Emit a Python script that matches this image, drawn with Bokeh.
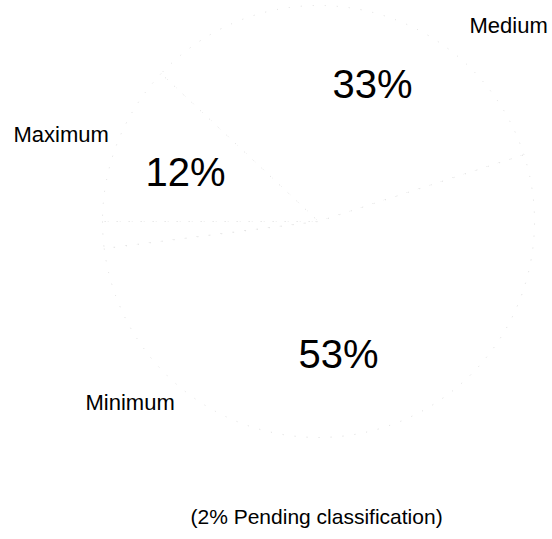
import numpy as np
from bokeh.plotting import figure
from bokeh.models import ColumnDataSource, Range1d
from bokeh.core.properties import value
from bokeh.embed import file_html
from bokeh.resources import INLINE

categories = ["Medium", "Maximum", "Pending", "Minimum"]
shares = [33, 12, 2, 53]
pct_labels = ["33%", "12%", "", "53%"]
footnote = "(2% Pending classification)"

W, H = 552, 539
cx, cy, r = 318, H - 221, 216
start0 = np.deg2rad(18)

vals = np.array(shares, dtype=float)
ang = vals / vals.sum() * 2 * np.pi
ends = start0 + np.cumsum(ang)
starts = ends - ang

src = ColumnDataSource(dict(start=starts, end=ends, cat=categories))

p = figure(width=W, height=H, x_range=Range1d(0, W), y_range=Range1d(0, H),
           output_backend="svg", toolbar_location=None, min_border=0)
p.axis.visible = False
p.grid.visible = False
p.outline_line_color = None
p.background_fill_color = "white"

p.wedge(x=cx, y=cy, radius=r, start_angle="start", end_angle="end", source=src,
        fill_color="white", line_color="#dcdcdc", line_width=1, line_dash="1 11")

FONT = value("Liberation Sans")

# percentage labels (centre x, baseline y in screen pixels)
pct_pos = [(372, 83), (185, 171), (0, 0), (338, 353)]
px = [pp[0] for pp, t in zip(pct_pos, pct_labels) if t]
py = [H - pp[1] for pp, t in zip(pct_pos, pct_labels) if t]
pt = [t for t in pct_labels if t]
p.text(x=px, y=py, text=pt, text_align="center", text_baseline="alphabetic",
       text_font=FONT, text_font_size="40px", text_color="black")

# category labels (left x, baseline y)
name_pos = {"Medium": (469, 25), "Maximum": (13, 134), "Minimum": (85, 402)}
nx = [name_pos[c][0] for c in categories if c in name_pos]
ny = [H - name_pos[c][1] for c in categories if c in name_pos]
nt = [c for c in categories if c in name_pos]
p.text(x=nx, y=ny, text=nt, text_align="left", text_baseline="alphabetic",
       text_font=FONT, text_font_size="22px", text_color="black")

p.text(x=[190], y=[H - 516], text=[footnote], text_align="left", text_baseline="alphabetic",
       text_font=FONT, text_font_size="21px", text_color="black")

open("out.html", "w").write(file_html(p, INLINE))
